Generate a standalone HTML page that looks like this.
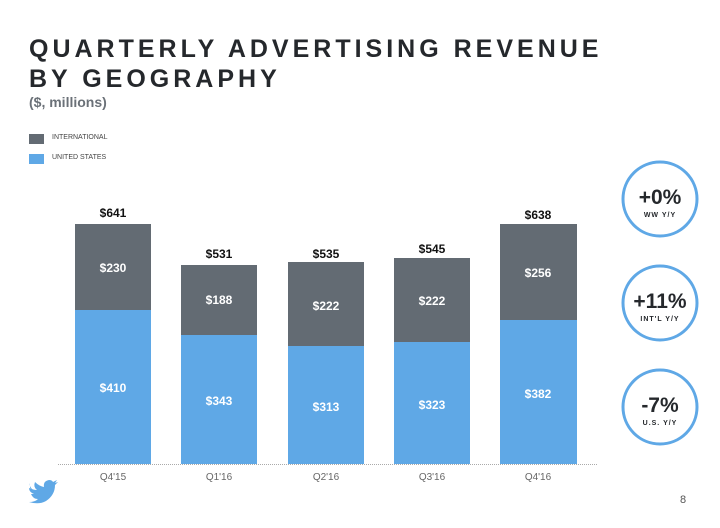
<!DOCTYPE html>
<html><head><style>
body{margin:0;width:720px;height:528px;background:#fff;position:relative;overflow:hidden;font-family:"Liberation Sans",sans-serif}
.a{position:absolute}
</style></head><body>
<div class="a" style="left:29px;top:34px;font-size:25px;font-weight:bold;letter-spacing:4px;color:#25282c;line-height:30px">QUARTERLY ADVERTISING REVENUE<br>BY GEOGRAPHY</div>
<div class="a" style="left:29px;top:94px;font-size:14px;font-weight:bold;color:#6b7178">($, millions)</div>
<div class="a" style="left:29px;top:134px;width:15px;height:10px;background:#636b73"></div>
<div class="a" style="left:52px;top:134px;font-size:7px;color:#444">INTERNATIONAL</div>
<div class="a" style="left:29px;top:154px;width:15px;height:10px;background:#5fa8e6"></div>
<div class="a" style="left:52px;top:154px;font-size:7px;color:#444">UNITED STATES</div>
<svg class="a" style="left:0;top:0" width="720" height="528">
<g font-family="Liberation Sans" font-weight="bold" text-anchor="middle" font-size="12">
<rect x="75" y="224" width="76" height="86" fill="#636b73"/><rect x="75" y="310" width="76" height="154" fill="#5fa8e6"/>
<rect x="181" y="265" width="76" height="70" fill="#636b73"/><rect x="181" y="335" width="76" height="129" fill="#5fa8e6"/>
<rect x="288" y="262" width="76" height="84" fill="#636b73"/><rect x="288" y="346" width="76" height="118" fill="#5fa8e6"/>
<rect x="394" y="258" width="76" height="84" fill="#636b73"/><rect x="394" y="342" width="76" height="122" fill="#5fa8e6"/>
<rect x="500" y="224" width="77" height="96" fill="#636b73"/><rect x="500" y="320" width="77" height="144" fill="#5fa8e6"/>
<g fill="#111"><text x="113" y="217">$641</text><text x="219" y="258">$531</text><text x="326" y="258">$535</text><text x="432" y="253">$545</text><text x="538" y="219">$638</text></g>
<g fill="#fff"><text x="113" y="272">$230</text><text x="113" y="392">$410</text>
<text x="219" y="304">$188</text><text x="219" y="405">$343</text>
<text x="326" y="310">$222</text><text x="326" y="411">$313</text>
<text x="432" y="305">$222</text><text x="432" y="409">$323</text>
<text x="538" y="277">$256</text><text x="538" y="398">$382</text></g>
<line x1="58" y1="464.5" x2="598" y2="464.5" stroke="#aaa" stroke-dasharray="1,1"/>
<g fill="#666" font-weight="normal" font-size="10"><text x="113" y="480">Q4'15</text><text x="219" y="480">Q1'16</text><text x="326" y="480">Q2'16</text><text x="432" y="480">Q3'16</text><text x="538" y="480">Q4'16</text></g>
<g fill="none" stroke="#5fa8e6" stroke-width="3"><circle cx="660" cy="199" r="37"/><circle cx="660" cy="303" r="37"/><circle cx="660" cy="407" r="37"/></g>
<g fill="#25282c"><text x="660" y="204" font-size="21">+0%</text><text x="660" y="308" font-size="21">+11%</text><text x="660" y="412" font-size="21">-7%</text>
<g font-size="7" letter-spacing="1"><text x="660" y="217">WW Y/Y</text><text x="660" y="321">INT'L Y/Y</text><text x="660" y="425">U.S. Y/Y</text></g></g>
<text x="683" y="503" font-size="11" fill="#555" font-weight="normal">8</text>
<path d="M30 488 q3 2 7 2 q-4-3-2-8 q4 4 9 5 q-1-6 5-7 q3 0 4 2 l4-2 l-2 3 l3-1 l-3 3 q0 10-9 16 q-7 4-17 1 q6 0 9-3 q-5 0-7-5 l3 0 q-5-2-5-6 l3 1 q-3-3-2-6z" fill="#5fa8e6"/>
</g></svg>
</body></html>
